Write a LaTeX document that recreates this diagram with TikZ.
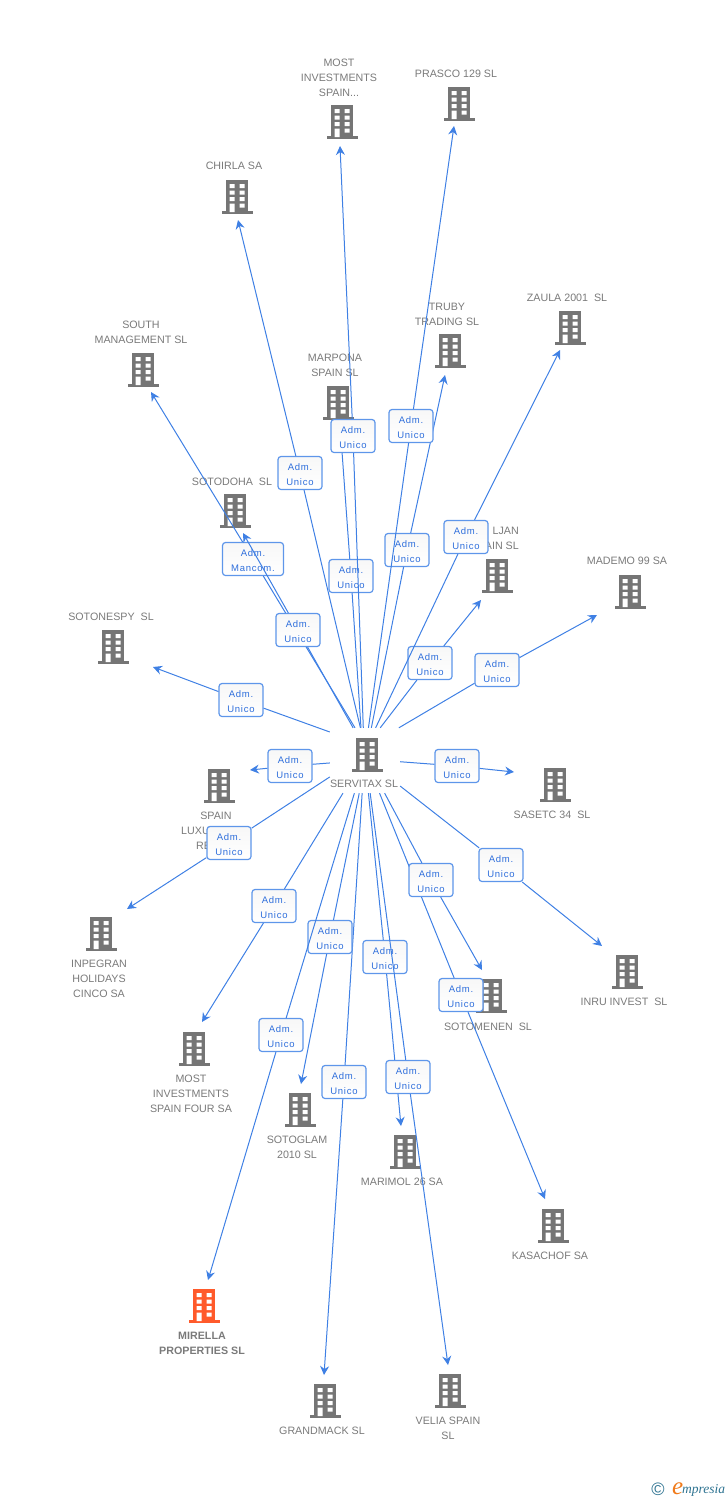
\documentclass[tikz,border=0pt]{standalone}
\usepackage{fontspec}
\setmainfont{Liberation Sans}
\newfontfamily\logofont{Liberation Serif}
\usetikzlibrary{arrows.meta}
\definecolor{linkblue}{HTML}{3F80E4}
\definecolor{boxblue}{HTML}{5E96EA}
\definecolor{textblue}{HTML}{2F6FDC}
\definecolor{bldggrey}{HTML}{757575}
\definecolor{bldgorange}{HTML}{FF5A2B}
\definecolor{namegrey}{HTML}{7A7A7A}
\definecolor{logoteal}{HTML}{2E7391}
\definecolor{logoorange}{HTML}{F07A1A}
\tikzset{%
	building/.style = {minimum size=36pt, inner sep=0pt, path picture={%
		\begin{scope}[shift={(path picture bounding box.center)}]
		\fill[#1] (-11,-17) rectangle (11,15);
		\fill[#1] (-15.5,14) rectangle (15.5,17);
		\fill[white] (-7.5,-13) rectangle (-2.5,-9) (2.5,-13) rectangle (7.5,-9);
		\fill[white] (-7.5,-6.5) rectangle (-2.5,-2.5) (2.5,-6.5) rectangle (7.5,-2.5);
		\fill[white] (-7.5,0) rectangle (-2.5,4) (2.5,0) rectangle (7.5,4);
		\fill[white] (-7.5,6.7) rectangle (-2.5,15) (2.5,6.7) rectangle (7.5,10.7);
		\end{scope}}},
	building/.default = bldggrey,
	compname/.style = {text=namegrey, font=\fontsize{10.7}{15}\selectfont, align=center, inner sep=0pt},
	role/.style     = {draw=boxblue, line width=1.2pt, top color=black!3, bottom color=white, rounded corners=3pt, minimum width=44pt, minimum height=33pt, inner sep=0pt, text height=26pt, text depth=2pt, text=textblue, align=center, font=\fontsize{9.5}{15}\selectfont\addfontfeature{LetterSpace=8}},
	link/.style     = {draw=linkblue, line width=1pt},
	arrow/.style    = {link, -{Stealth[length=9pt,width=9pt,inset=3pt]}},
}
\begin{document}
\begin{tikzpicture}[x=1pt,y=-1pt]
	\useasboundingbox (0,0) rectangle (728,1500);
	% buildings
	\node[building] (servitax) at (367,755) {};
	\node[building] (sotonespy) at (113,647) {};
	\node[building] (south) at (143,370) {};
	\node[building] (sotodoha) at (235,511) {};
	\node[building] (chirla) at (237,197) {};
	\node[building] (marpona) at (338,403) {};
	\node[building] (mostspain) at (342,122) {};
	\node[building] (prasco) at (459,104) {};
	\node[building] (truby) at (450,351) {};
	\node[building] (zaula) at (570,328) {};
	\node[building] (jan) at (497,576) {};
	\node[building] (mademo) at (630,592) {};
	\node[building] (sasetc) at (555,785) {};
	\node[building] (inru) at (627,972) {};
	\node[building] (sotomenen) at (491,996) {};
	\node[building] (kasachof) at (553,1226) {};
	\node[building] (velia) at (450,1391) {};
	\node[building] (marimol) at (405,1152) {};
	\node[building] (grandmack) at (325,1401) {};
	\node[building] (sotoglam) at (300,1110) {};
	\node[building=bldgorange] (mirella) at (204,1306) {};
	\node[building] (mostfour) at (194,1049) {};
	\node[building] (inpegran) at (101,934) {};
	\node[building] (luxury) at (219,786) {};
	% names
	\node[compname] (nservitax) at (364,784) {SERVITAX SL};
	\node[compname,above] (nsotonespy) at (111,621) {SOTONESPY\ \ SL};
	\node[compname,above] (nsouth) at (141,344) {SOUTH\\MANAGEMENT SL};
	\node[compname,above] (nsotodoha) at (232,486) {SOTODOHA\ \ SL};
	\node[compname,above] (nchirla) at (234,170) {CHIRLA SA};
	\node[compname,above] (nmarpona) at (335,377) {MARPONA\\SPAIN SL};
	\node[compname,above] (nmostspain) at (339,97) {MOST\\INVESTMENTS\\SPAIN...};
	\node[compname,above] (nprasco) at (456,78) {PRASCO 129 SL};
	\node[compname,above] (ntruby) at (447,326) {TRUBY\\TRADING SL};
	\node[compname,above] (nzaula) at (567,302) {ZAULA 2001\ \ SL};
	\node[compname,above left,align=right] (njan) at (519,550) {LJAN\\AIN SL};
	\node[compname,above] (nmademo) at (627,565) {MADEMO 99 SA};
	\node[compname,below] (nsasetc) at (552,811) {SASETC 34\ \ SL};
	\node[compname,below] (ninru) at (624,998) {INRU INVEST\ \ SL};
	\node[compname,below] (nsotomenen) at (488,1023) {SOTOMENEN\ \ SL};
	\node[compname,below] (nkasachof) at (550,1252) {KASACHOF SA};
	\node[compname,below] (nvelia) at (448,1417) {VELIA SPAIN\\SL};
	\node[compname,below] (nmarimol) at (402,1178) {MARIMOL 26 SA};
	\node[compname,below] (ngrandmack) at (322,1427) {GRANDMACK SL};
	\node[compname,below] (nsotoglam) at (297,1136) {SOTOGLAM\\2010 SL};
	\node[compname,below,font=\fontsize{10.7}{15}\selectfont\bfseries] (nmirella) at (202,1332) {MIRELLA\\PROPERTIES SL};
	\node[compname,below] (nmostfour) at (191,1075) {MOST\\INVESTMENTS\\SPAIN FOUR SA};
	\node[compname,below] (ninpegran) at (99,960) {INPEGRAN\\HOLIDAYS\\CINCO SA};
	\node[compname,below] (nluxury) at (216,812) {SPAIN};
	\node[compname,below right,align=left] (nluxury2) at (181,827) {LUXU\\\ \ \ \ \ RE};
	% hub the connectors start from
	\node[minimum width=70pt, minimum height=65pt, inner sep=0pt] (hub) at (365,760.5) {};
	% arrow ends
	\coordinate (tsotonespy) at (153,667);
	\coordinate (tsouth) at (151,392);
	\coordinate (tsotodoha) at (243,533);
	\coordinate (tchirla) at (238,220);
	\coordinate (tmarpona) at (340,424);
	\coordinate (tmostspain) at (340,146);
	\coordinate (tprasco) at (454,126);
	\coordinate (ttruby) at (445,375);
	\coordinate (tzaula) at (560,350);
	\coordinate (tjan) at (481,600);
	\coordinate (tmademo) at (597,615);
	\coordinate (tsasetc) at (514,772);
	\coordinate (tinru) at (602,946);
	\coordinate (tsotomenen) at (482,970);
	\coordinate (tkasachof) at (545,1199);
	\coordinate (tmarimol) at (401,1126);
	\coordinate (tvelia) at (448,1365);
	\coordinate (tgrandmack) at (324,1375);
	\coordinate (tsotoglam) at (301,1084);
	\coordinate (tmirella) at (208,1280);
	\coordinate (tmostfour) at (202,1022);
	\coordinate (tinpegran) at (127,909);
	\coordinate (tluxury) at (250,770);
	% connectors with their roles
	\node[role] (rsotonespy) at (241,700) {Adm.\\Unico};
	\draw[link] (hub.141.8) -- (rsotonespy);
	\draw[arrow] (rsotonespy) -- (tsotonespy);
	\node[role,minimum width=61pt] (rsouth) at (253,559) {Adm.\\Mancom.};
	\draw[link] (hub.107) -- (rsouth);
	\draw[arrow] (rsouth) -- (tsouth);
	\node[role] (rsotodoha) at (298,630) {Adm.\\Unico};
	\draw[link] (hub.110.3) -- (rsotodoha);
	\draw[arrow] (rsotodoha) -- (tsotodoha);
	\node[role] (rchirla) at (300,473) {Adm.\\Unico};
	\draw[link] (hub.98.7) -- (rchirla);
	\draw[arrow] (rchirla) -- (tchirla);
	\node[role] (rmarpona) at (351,576) {Adm.\\Unico};
	\draw[link] (hub.97) -- (rmarpona);
	\draw[arrow] (rmarpona) -- (tmarpona);
	\node[role] (rmostspain) at (353,436) {Adm.\\Unico};
	\draw[link] (hub.93) -- (rmostspain);
	\draw[arrow] (rmostspain) -- (tmostspain);
	\node[role] (rtruby) at (407,550) {Adm.\\Unico};
	\draw[link] (hub.79.5) -- (rtruby);
	\draw[arrow] (rtruby) -- (ttruby);
	\node[role] (rprasco) at (411,426) {Adm.\\Unico};
	\draw[link] (hub.84.7) -- (rprasco);
	\draw[arrow] (rprasco) -- (tprasco);
	\node[role] (rjan) at (430,663) {Adm.\\Unico};
	\draw[link] (hub.65.2) -- (rjan);
	\draw[arrow] (rjan) -- (tjan);
	\node[role] (rzaula) at (466,537) {Adm.\\Unico};
	\draw[link] (hub.72.9) -- (rzaula);
	\draw[arrow] (rzaula) -- (tzaula);
	\node[role] (rmademo) at (497,670) {Adm.\\Unico};
	\draw[link] (hub.44.6) -- (rmademo);
	\draw[arrow] (rmademo) -- (tmademo);
	\node[role] (rsasetc) at (457,766) {Adm.\\Unico};
	\draw[link] (hub.-2.5) -- (rsasetc);
	\draw[arrow] (rsasetc) -- (tsasetc);
	\node[role] (rinru) at (501,865) {Adm.\\Unico};
	\draw[link] (hub.-36.6) -- (rinru);
	\draw[arrow] (rinru) -- (tinru);
	\node[role] (rkasachof) at (461,995) {Adm.\\Unico};
	\draw[link] (hub.-66.7) -- (rkasachof);
	\draw[arrow] (rkasachof) -- (tkasachof);
	\node[role] (rsotomenen) at (431,880) {Adm.\\Unico};
	\draw[link] (hub.-59.7) -- (rsotomenen);
	\draw[arrow] (rsotomenen) -- (tsotomenen);
	\node[role] (rmarimol) at (385,957) {Adm.\\Unico};
	\draw[link] (hub.-84.7) -- (rmarimol);
	\draw[arrow] (rmarimol) -- (tmarimol);
	\node[role] (rvelia) at (408,1077) {Adm.\\Unico};
	\draw[link] (hub.-81.3) -- (rvelia);
	\draw[arrow] (rvelia) -- (tvelia);
	\node[role] (rgrandmack) at (344,1082) {Adm.\\Unico};
	\draw[link] (hub.-95.3) -- (rgrandmack);
	\draw[arrow] (rgrandmack) -- (tgrandmack);
	\node[role] (rsotoglam) at (330,937) {Adm.\\Unico};
	\draw[link] (hub.-100.5) -- (rsotoglam);
	\draw[arrow] (rsotoglam) -- (tsotoglam);
	\node[role] (rmirella) at (281,1035) {Adm.\\Unico};
	\draw[link] (hub.-108.7) -- (rmirella);
	\draw[arrow] (rmirella) -- (tmirella);
	\node[role] (rmostfour) at (274,906) {Adm.\\Unico};
	\draw[link] (hub.-124.1) -- (rmostfour);
	\draw[arrow] (rmostfour) -- (tmostfour);
	\node[role] (rinpegran) at (229,843) {Adm.\\Unico};
	\draw[link] (hub.-155) -- (rinpegran);
	\draw[arrow] (rinpegran) -- (tinpegran);
	\node[role] (rluxury) at (290,766) {Adm.\\Unico};
	\draw[link] (hub.-176) -- (rluxury);
	\draw[arrow] (rluxury) -- (tluxury);
	% logo
	\node[inner sep=0pt,text=logoteal,font=\fontsize{18}{18}\selectfont] (copyright) at (658,1489) {©};
	\node[inner sep=0pt,anchor=base west,font=\logofont\itshape\fontsize{25}{25}\selectfont,text=logoorange] (logoe) at (672,1494) {e};
	\node[inner sep=0pt,anchor=base west,font=\logofont\itshape\fontsize{13.5}{14}\selectfont,text=logoteal] (logotext) at (682,1493) {mpresia};
\end{tikzpicture}
\end{document}
